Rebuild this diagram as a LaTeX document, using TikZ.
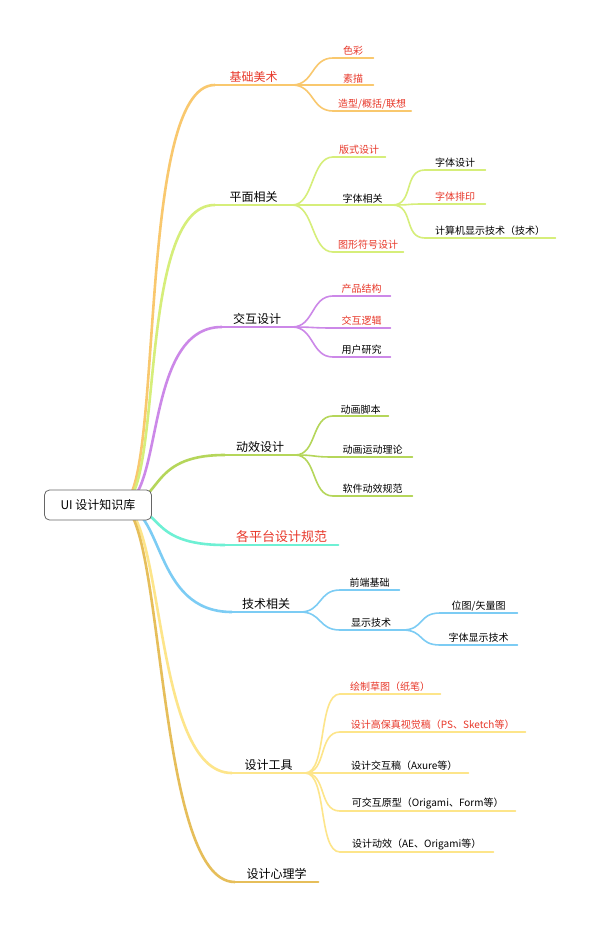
\documentclass[tikz,border=0pt]{standalone}
\usepackage{fontspec}
\newfontfamily\cjk{Noto Sans CJK SC}
\usetikzlibrary{positioning,calc}
\definecolor{cmeishu}{RGB}{249,200,110}
\definecolor{cpingmian}{RGB}{214,238,122}
\definecolor{cjiaohu}{RGB}{204,136,232}
\definecolor{cdongxiao}{RGB}{181,214,90}
\definecolor{cpingtai}{RGB}{110,240,212}
\definecolor{cjishu}{RGB}{124,204,244}
\definecolor{cgongju}{RGB}{253,229,138}
\definecolor{cxinli}{RGB}{230,190,90}
\definecolor{tred}{RGB}{232,56,42}
\tikzset{
  br/.style={anchor=south,inner xsep=0pt,inner ysep=2pt,font=\cjk\fontsize{12}{12}\selectfont},
  sub/.style={anchor=south west,inner xsep=5pt,inner ysep=2pt,font=\cjk\fontsize{10}{10}\selectfont},
  main line/.style={line width=2.6pt,line cap=round},
  sub line/.style={line width=1.6pt,line cap=round},
  hot/.style={text=tred},
}
\newcommand{\uline}[2]{\draw[#1] (#2.south west) -- (#2.south east);}
\begin{document}
\begin{tikzpicture}[x=1pt,y=-1pt]
\useasboundingbox[fill=white] (0,0) rectangle (600,925);
\coordinate (o) at (120,505);

% branches
\node[br,hot,minimum width=77] (bm) at (253.5,85) {基础美术};
\node[br,minimum width=77] (pm) at (253.5,205) {平面相关};
\node[br,minimum width=70] (jh) at (257,327) {交互设计};
\node[br,minimum width=70] (dx) at (260,455) {动效设计};
\node[br,hot,minimum width=113,font=\cjk\fontsize{13}{13}\selectfont] (pt) at (281.5,545) {各平台设计规范};
\node[br,minimum width=68] (js) at (266,612) {技术相关};
\node[br,minimum width=73] (gj) at (268.5,773) {设计工具};
\node[br,minimum width=83] (xl) at (276.5,882) {设计心理学};

\foreach \n/\c in {bm/cmeishu,pm/cpingmian,jh/cjiaohu,dx/cdongxiao,pt/cpingtai,js/cjishu,gj/cgongju,xl/cxinli}{
  \draw[main line,\c] (o) .. controls ($(o)+(45,0)$) and ($(\n.south west)+(-80,0)$) .. (\n.south west);
  \uline{main line,\c}{\n}
}

% children
\node[sub,hot,minimum width=40] (bm1) at (333,58) {色彩};
\node[sub,hot,minimum width=40] (bm2) at (333,85) {素描};
\node[sub,hot] (bm3) at (333,111) {造型/概括/联想};
\node[sub,hot,minimum width=52] (pm1) at (333,157) {版式设计};
\node[sub,minimum width=59] (pm2) at (333,205) {字体相关};
\node[sub,hot] (pm3) at (333,252) {图形符号设计};
\node[sub,minimum width=60] (zt1) at (425,170) {字体设计};
\node[sub,hot,minimum width=60] (zt2) at (425,204) {字体排印};
\node[sub,minimum width=130] (zt3) at (425,238) {计算机显示技术（技术）};
\node[sub,hot,minimum width=57] (jh1) at (333,296) {产品结构};
\node[sub,hot,minimum width=57] (jh2) at (333,328) {交互逻辑};
\node[sub,minimum width=57] (jh3) at (333,357) {用户研究};
\node[sub,minimum width=55] (dx1) at (333,416) {动画脚本};
\node[sub,minimum width=79] (dx2) at (333,457) {动画运动理论};
\node[sub,minimum width=79] (dx3) at (333,496) {软件动效规范};
\node[sub,minimum width=59] (js1) at (340,590) {前端基础};
\node[sub,minimum width=62] (js2) at (340,630) {显示技术};
\node[sub,minimum width=77] (xs1) at (440,613) {位图/矢量图};
\node[sub,minimum width=77] (xs2) at (440,645) {字体显示技术};
\node[sub,hot,minimum width=100] (gj1) at (340,694) {绘制草图（纸笔）};
\node[sub,hot,minimum width=185] (gj2) at (340,732) {设计高保真视觉稿（PS、Sketch等）};
\node[sub,minimum width=128] (gj3) at (340,773) {设计交互稿（Axure等）};
\node[sub,minimum width=175] (gj4) at (340,811) {可交互原型（Origami、Form等）};
\node[sub,minimum width=153] (gj5) at (340,852) {设计动效（AE、Origami等）};

\foreach \p/\n/\c in {bm/bm1/cmeishu,bm/bm2/cmeishu,bm/bm3/cmeishu,
  pm/pm1/cpingmian,pm/pm2/cpingmian,pm/pm3/cpingmian,
  pm2/zt1/cpingmian,pm2/zt2/cpingmian,pm2/zt3/cpingmian,
  jh/jh1/cjiaohu,jh/jh2/cjiaohu,jh/jh3/cjiaohu,
  dx/dx1/cdongxiao,dx/dx2/cdongxiao,dx/dx3/cdongxiao,
  js/js1/cjishu,js/js2/cjishu,js2/xs1/cjishu,js2/xs2/cjishu,
  gj/gj1/cgongju,gj/gj2/cgongju,gj/gj3/cgongju,gj/gj4/cgongju,gj/gj5/cgongju}{
  \draw[sub line,\c] (\p.south east) .. controls ($(\p.south east)+(22,0)$) and ($(\n.south west)+(-22,0)$) .. (\n.south west);
  \uline{sub line,\c}{\n}
}

% root
\node[draw=black!60,fill=white,rounded corners=5pt,line width=0.8pt,minimum width=107,minimum height=30,font=\cjk\fontsize{12}{12}\selectfont] (root) at (98,505) {UI 设计知识库};
\end{tikzpicture}
\end{document}
